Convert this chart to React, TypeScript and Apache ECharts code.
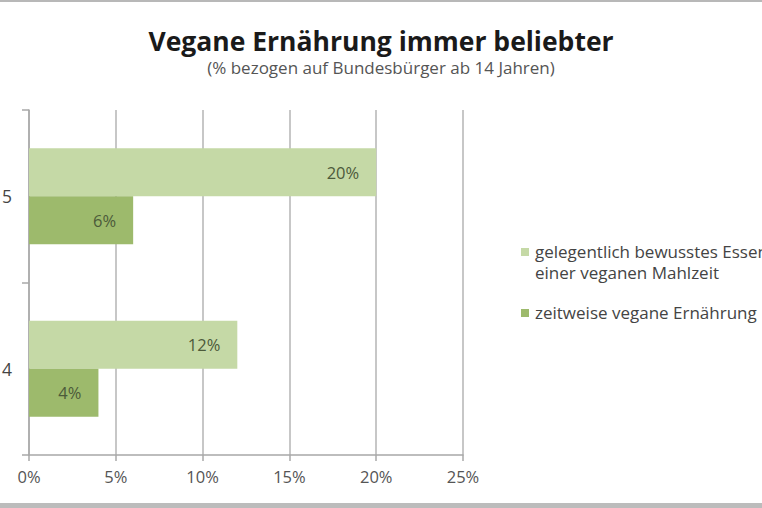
import React, { useEffect, useRef } from "react";
import * as echarts from "echarts";

const categories = ["2014", "2015"];
const seriesNames = [
  "gelegentlich bewusstes Essen einer veganen Mahlzeit",
  "zeitweise vegane Ernährung",
];
const occasionalValues = [12, 20];
const temporaryValues = [4, 6];
const xTicks = [0, 5, 10, 15, 20, 25];

const LIGHT = "#c5d9a6";
const DARK = "#9dba6c";
const FONT = "Open Sans";

export default function App() {
  const ref = useRef<HTMLDivElement>(null);
  useEffect(() => {
    if (!ref.current) return;
    const chart = echarts.init(ref.current, undefined, { renderer: "svg" });
    const valueLabel = {
      show: true,
      position: "insideRight",
      distance: 17,
      formatter: "{c}%",
      fontSize: 16.5,
      color: "#4c5a3a",
      fontFamily: FONT,
    };
    chart.setOption({
      animation: false,
      backgroundColor: "#ffffff",
      textStyle: { fontFamily: FONT },
      title: {
        text: "Vegane Ernährung immer beliebter",
        subtext: "(% bezogen auf Bundesbürger ab 14 Jahren)",
        left: "center",
        top: 27,
        padding: [0, 6, 0, 0],
        itemGap: 5,
        textStyle: { fontFamily: FONT, fontSize: 26.5, fontWeight: "bold", color: "#1a1a1a" },
        subtextStyle: { fontFamily: FONT, fontSize: 17, color: "#555555" },
      },
      grid: {
        left: 29,
        right: 299,
        top: 110,
        bottom: 53,
        containLabel: false,
        outerBoundsMode: "none",
      },
      xAxis: {
        type: "value",
        min: xTicks[0],
        max: xTicks[xTicks.length - 1],
        interval: 5,
        axisLine: { show: true, lineStyle: { color: "#a8a8a8", width: 1.5 } },
        axisTick: { show: true, length: 6, lineStyle: { color: "#a8a8a8", width: 1.5 } },
        splitLine: { show: true, lineStyle: { color: "#b4b4b4", width: 1.5 } },
        axisLabel: {
          formatter: "{value}%",
          fontSize: 16.5,
          color: "#555555",
          margin: 13,
          fontFamily: FONT,
        },
      },
      yAxis: {
        type: "category",
        data: categories,
        axisLine: { show: true, lineStyle: { color: "#a8a8a8", width: 1.5 } },
        axisTick: { show: true, length: 7, lineStyle: { color: "#a8a8a8", width: 1.5 } },
        axisLabel: { fontSize: 17.5, color: "#444444", margin: 17, fontFamily: FONT },
      },
      series: [
        {
          name: seriesNames[0],
          type: "bar",
          data: occasionalValues,
          barWidth: 48,
          barGap: "0%",
          itemStyle: { color: LIGHT },
          label: valueLabel,
        },
        {
          name: seriesNames[1],
          type: "bar",
          data: temporaryValues,
          barWidth: 48,
          barGap: "0%",
          itemStyle: { color: DARK },
          label: valueLabel,
        },
      ],
      graphic: [
        { type: "rect", shape: { x: 0, y: 0, width: 762, height: 2 }, style: { fill: "#b8b8b8" } },
        { type: "rect", shape: { x: 0, y: 503, width: 762, height: 5 }, style: { fill: "#bcbcbc" } },
        { type: "rect", shape: { x: 521, y: 248, width: 8, height: 8 }, style: { fill: LIGHT } },
        {
          type: "text",
          x: 535,
          y: 241,
          style: {
            text: "gelegentlich bewusstes Essen\neiner veganen Mahlzeit",
            fontFamily: FONT,
            fontSize: 17,
            lineHeight: 21,
            fill: "#444444",
          },
        },
        { type: "rect", shape: { x: 521, y: 309, width: 8, height: 8 }, style: { fill: DARK } },
        {
          type: "text",
          x: 535,
          y: 302,
          style: {
            text: seriesNames[1],
            fontFamily: FONT,
            fontSize: 17,
            lineHeight: 21,
            fill: "#444444",
          },
        },
      ],
    });
    return () => chart.dispose();
  }, []);
  return (
    <div
      ref={ref}
      style={{ position: "absolute", left: 0, top: 0, width: 762, height: 508 }}
    />
  );
}
